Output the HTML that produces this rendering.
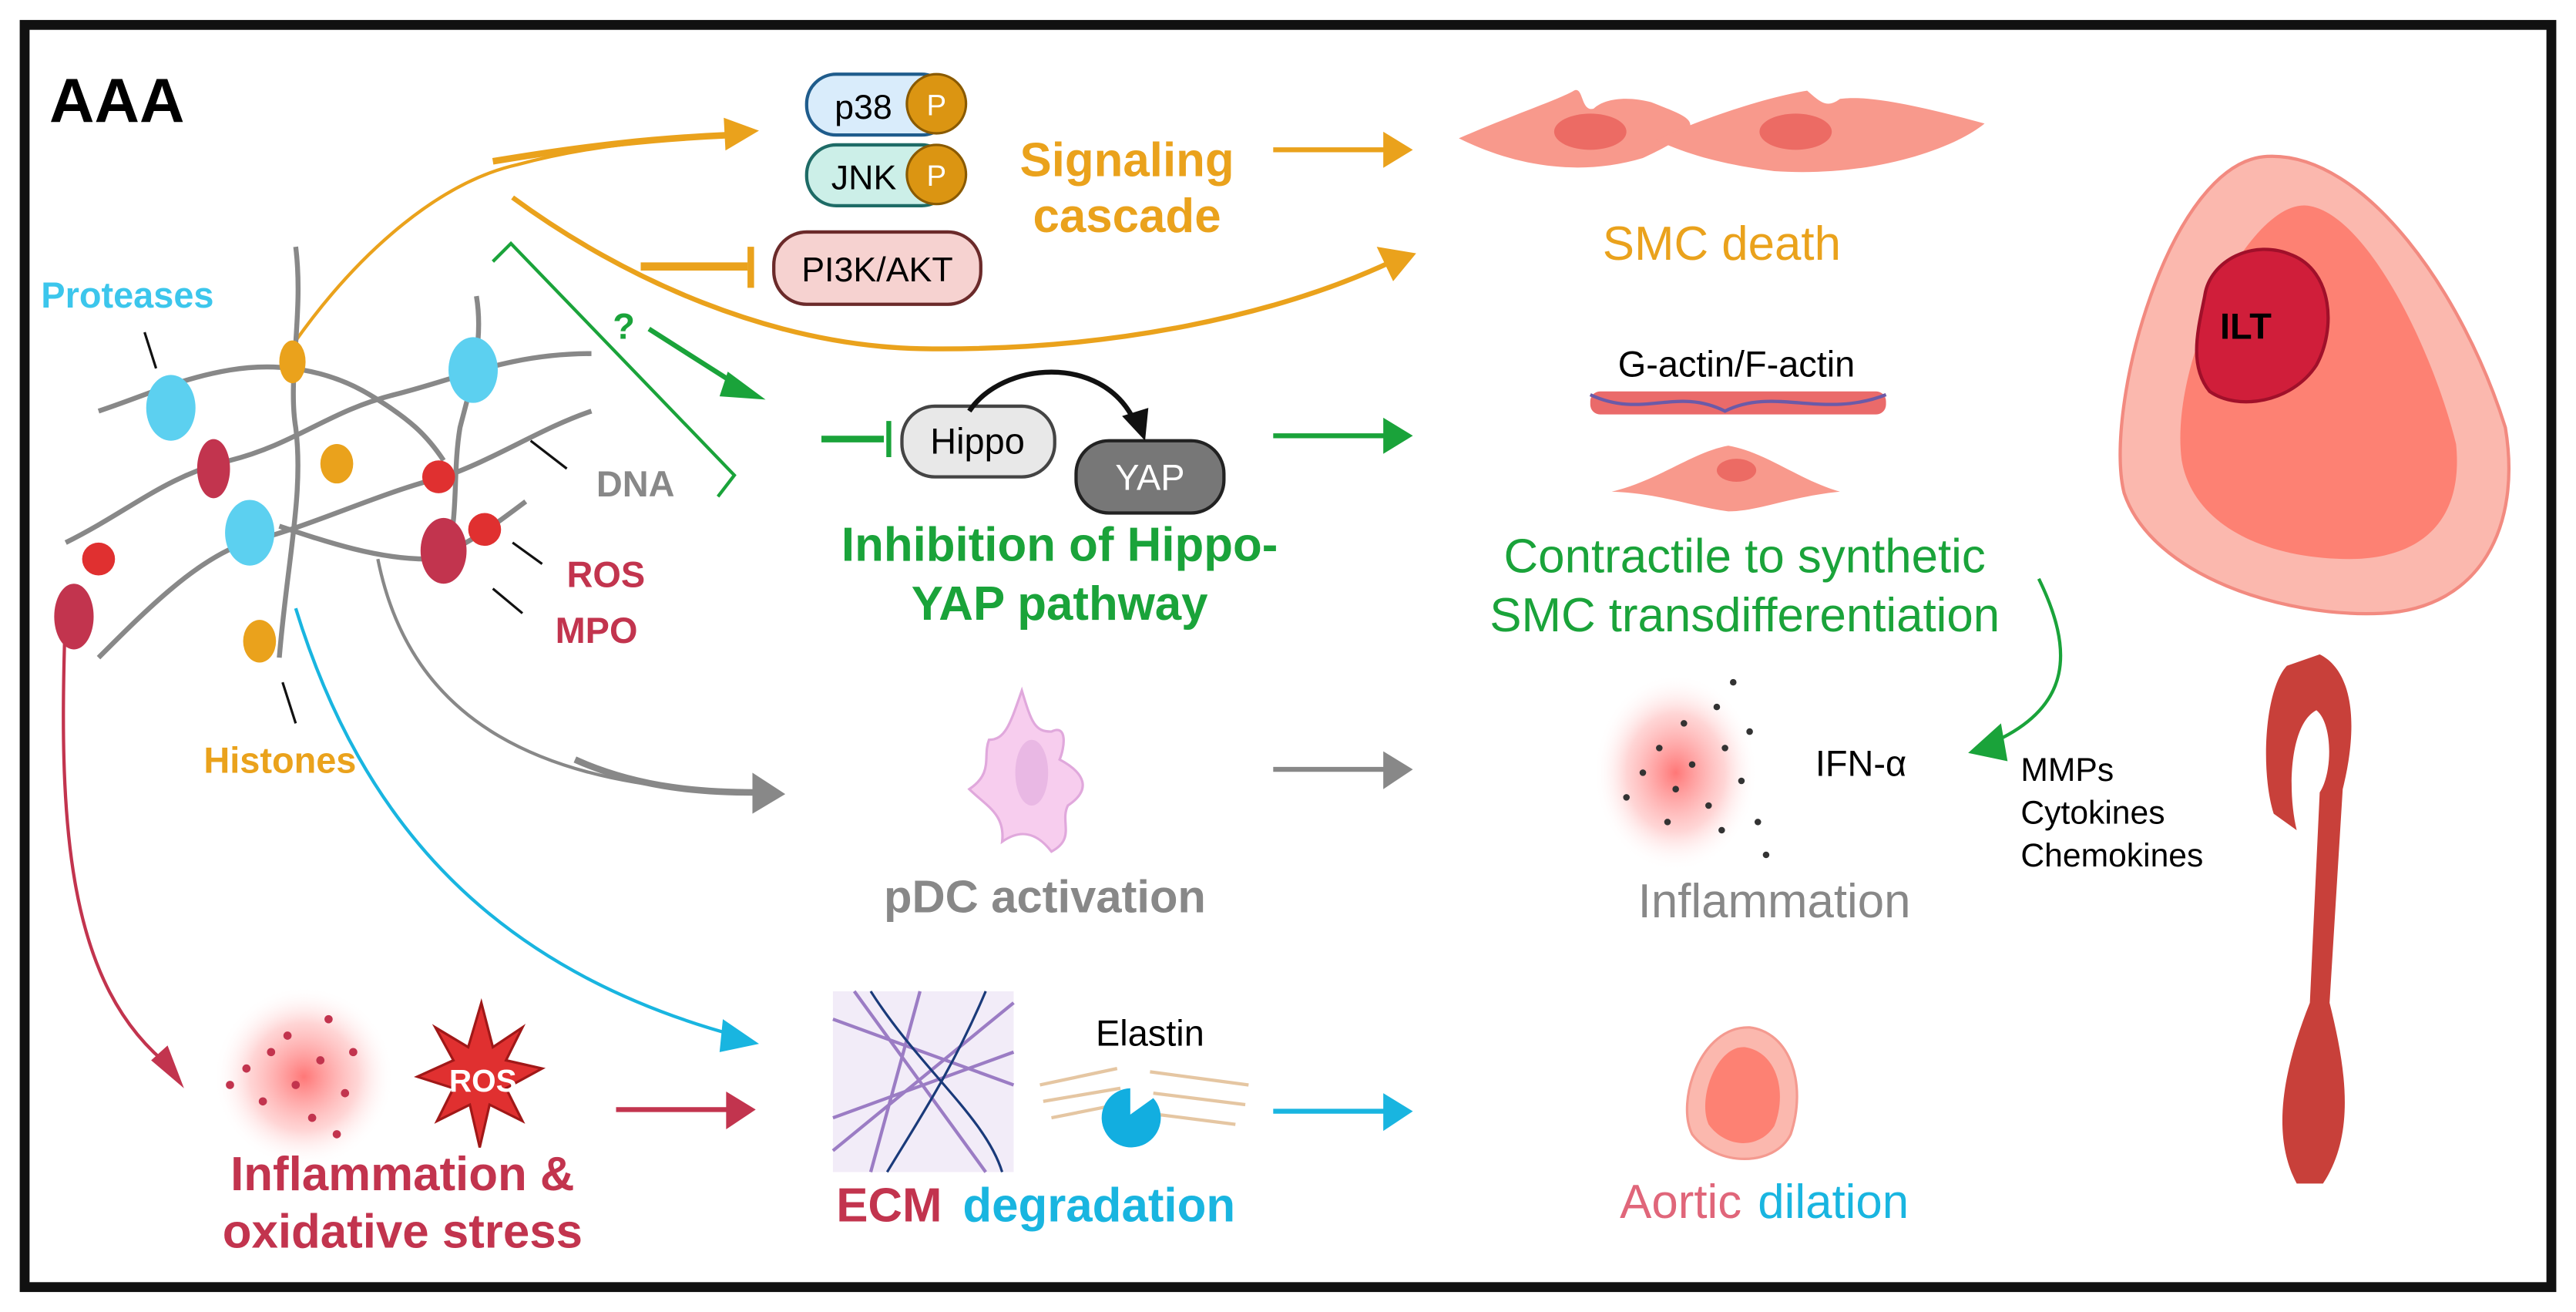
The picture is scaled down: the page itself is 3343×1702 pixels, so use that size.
<!DOCTYPE html>
<html><head><meta charset="utf-8"><style>
html,body{margin:0;padding:0;background:#fff;}
svg{display:block;}
text{font-family:"Liberation Sans",sans-serif;}
</style></head><body>
<svg width="3343" height="1702" viewBox="0 0 1568 798" xmlns="http://www.w3.org/2000/svg">
<defs>
<radialGradient id="glow"><stop offset="0" stop-color="#f55" stop-opacity="0.8"/><stop offset="0.6" stop-color="#f88" stop-opacity="0.35"/><stop offset="1" stop-color="#fff" stop-opacity="0"/></radialGradient>
</defs>
<rect width="1568" height="798" fill="#fff"/>
<rect x="15" y="15" width="1538" height="768" fill="none" stroke="#111" stroke-width="6"/>
<text x="30" y="74" font-size="38" font-weight="bold" fill="#000">AAA</text>

<!-- pills -->
<rect x="491" y="45" width="88" height="37" rx="18" fill="#d9ecfb" stroke="#1f5c8c" stroke-width="2"/>
<text x="508" y="72" font-size="21">p38</text>
<circle cx="570" cy="63" r="18" fill="#db9512" stroke="#8a5a00" stroke-width="1.5"/><text x="570" y="70" font-size="18" fill="#fff" text-anchor="middle">P</text>
<rect x="491" y="88" width="88" height="37" rx="18" fill="#ccefe8" stroke="#1e6b66" stroke-width="2"/>
<text x="506" y="115" font-size="21">JNK</text>
<circle cx="570" cy="106" r="18" fill="#db9512" stroke="#8a5a00" stroke-width="1.5"/><text x="570" y="113" font-size="18" fill="#fff" text-anchor="middle">P</text>
<rect x="471" y="141" width="126" height="44" rx="20" fill="#f6d2d0" stroke="#6b2a2a" stroke-width="2"/>
<text x="534" y="171" font-size="21" text-anchor="middle">PI3K/AKT</text>
<text x="686" y="107" font-size="29" font-weight="bold" fill="#eaa21c" text-anchor="middle">Signaling</text>
<text x="686" y="141" font-size="29" font-weight="bold" fill="#eaa21c" text-anchor="middle">cascade</text>

<!-- orange arrows -->
<path d="M178,210 C220,150 270,110 315,100 C360,88 400,85 450,82" fill="none" stroke="#eaa21c" stroke-width="2"/>
<path d="M300,98 C360,88 400,84 445,82" fill="none" stroke="#eaa21c" stroke-width="4"/>
<path d="M441,71 L462,80 L441,91z" fill="#eaa21c" transform="rotate(-3 450 80)"/>
<path d="M312,120 C380,170 470,210 560,212 C680,214 780,190 845,160" fill="none" stroke="#eaa21c" stroke-width="3"/>
<path d="M838,150 L862,154 L848,171z" fill="#eaa21c"/>
<path d="M390,162 L455,162" stroke="#eaa21c" stroke-width="5"/>
<path d="M457,150 L457,175" stroke="#eaa21c" stroke-width="4"/>
<path d="M775,91 L845,91" stroke="#eaa21c" stroke-width="3"/>
<path d="M842,80 L860,91 L842,102z" fill="#eaa21c"/>

<!-- SMC death cells -->
<path d="M888,84 C920,70 950,60 958,55 C964,52 962,68 970,66 C976,60 990,58 1005,62 C1030,72 1045,75 1000,96 C960,108 920,100 888,84z" fill="#f8998c"/>
<path d="M1008,85 C1040,70 1080,58 1100,55 C1108,62 1112,66 1120,60 C1135,58 1160,62 1208,75 C1190,90 1140,108 1080,104 C1050,100 1030,95 1008,85z" fill="#f8998c"/>
<ellipse cx="968" cy="80" rx="22" ry="11" fill="#ec6b64"/><ellipse cx="1093" cy="80" rx="22" ry="11" fill="#ec6b64"/>
<text x="1048" y="158" font-size="29" fill="#eaa21c" text-anchor="middle">SMC death</text>

<!-- green bracket & arrows -->
<polyline points="300,159 311,148 447,289 437,302" fill="none" stroke="#1aa33a" stroke-width="2"/>
<text x="373" y="206" font-size="22" font-weight="bold" fill="#1aa33a">?</text>
<path d="M395,200 L450,235" stroke="#1aa33a" stroke-width="3"/>
<path d="M443,226 L466,243 L438,241z" fill="#1aa33a"/>
<path d="M500,267 L538,267" stroke="#1aa33a" stroke-width="4"/>
<path d="M541,256 L541,278" stroke="#1aa33a" stroke-width="3"/>
<rect x="549" y="247" width="93" height="43" rx="20" fill="#e8e8e8" stroke="#444" stroke-width="2"/>
<text x="595" y="276" font-size="22" text-anchor="middle">Hippo</text>
<rect x="655" y="268" width="90" height="44" rx="20" fill="#777" stroke="#222" stroke-width="2"/>
<text x="700" y="298" font-size="22" fill="#fff" text-anchor="middle">YAP</text>
<path d="M590,250 C610,220 670,215 690,255" fill="none" stroke="#111" stroke-width="3"/>
<path d="M683,253 L697,268 L699,248z" fill="#111"/>
<text x="645" y="341" font-size="29" font-weight="bold" fill="#1aa33a" text-anchor="middle">Inhibition of Hippo-</text>
<text x="645" y="377" font-size="29" font-weight="bold" fill="#1aa33a" text-anchor="middle">YAP pathway</text>
<path d="M775,265 L845,265" stroke="#1aa33a" stroke-width="3"/>
<path d="M842,254 L860,265 L842,276z" fill="#1aa33a"/>

<text x="1057" y="229" font-size="22" text-anchor="middle">G-actin/F-actin</text>
<rect x="968" y="238" width="180" height="14" rx="6" fill="#ea6a6a"/>
<path d="M968,240 C1000,255 1020,235 1050,250 C1080,235 1110,255 1148,240" fill="none" stroke="#6b5aa8" stroke-width="2"/>
<path d="M981,299 C1010,292 1030,275 1052,271 C1075,275 1095,292 1120,299 C1090,302 1070,311 1052,311 C1030,308 1010,300 981,299z" fill="#f8998c"/>
<ellipse cx="1057" cy="286" rx="12" ry="7" fill="#ec6b64"/>
<text x="1062" y="348" font-size="29" fill="#1aa33a" text-anchor="middle">Contractile to synthetic</text>
<text x="1062" y="384" font-size="29" fill="#1aa33a" text-anchor="middle">SMC transdifferentiation</text>
<path d="M1241,352 C1262,395 1262,430 1212,452" fill="none" stroke="#1aa33a" stroke-width="2"/>
<path d="M1218,440 L1198,458 L1222,463z" fill="#1aa33a"/>

<!-- big vessel -->
<path d="M1380,95 C1440,92 1500,180 1525,260 C1535,320 1510,370 1450,373 C1390,376 1310,350 1293,300 C1280,250 1320,98 1380,95z" fill="#fbb8ae" stroke="#f28a80" stroke-width="2"/>
<path d="M1405,125 C1440,130 1480,210 1495,270 C1500,320 1470,340 1430,340 C1380,340 1335,320 1328,280 C1320,220 1370,120 1405,125z" fill="#fd8173"/>
<path d="M1342,180 C1345,158 1372,145 1395,155 C1420,165 1422,200 1410,222 C1395,245 1362,250 1345,238 C1332,222 1338,200 1342,180z" fill="#d01e3a" stroke="#a0102a" stroke-width="2"/>
<text x="1367" y="206" font-size="22" font-weight="bold" text-anchor="middle">ILT</text>

<!-- NET network -->
<g fill="none" stroke="#888" stroke-width="3">
<path d="M40,330 C80,310 100,290 140,280 C180,270 200,250 240,240 C280,230 310,215 360,215 M60,400 C90,370 120,340 150,330 C190,320 230,300 270,290 C300,280 330,260 360,250"/>
<path d="M60,250 C90,240 110,230 140,225 C170,220 200,225 225,240 C250,255 260,265 270,280 M180,150 C185,190 175,230 180,260 C185,300 175,340 170,400"/>
<path d="M290,180 C295,210 285,240 280,260 C275,290 280,320 270,340 M170,320 C200,330 230,340 260,340 C280,335 300,320 320,305"/>
</g>
<g fill="#5cd0f0"><ellipse cx="104" cy="248" rx="15" ry="20"/><ellipse cx="288" cy="225" rx="15" ry="20"/><ellipse cx="152" cy="324" rx="15" ry="20"/></g>
<g fill="#c2344e"><ellipse cx="130" cy="285" rx="10" ry="18"/><ellipse cx="45" cy="375" rx="12" ry="20"/><ellipse cx="270" cy="335" rx="14" ry="20"/></g>
<g fill="#eaa21c"><ellipse cx="178" cy="220" rx="8" ry="13"/><ellipse cx="205" cy="282" rx="10" ry="12"/><ellipse cx="158" cy="390" rx="10" ry="13"/></g>
<g fill="#e03030"><circle cx="267" cy="290" r="10"/><circle cx="295" cy="322" r="10"/><circle cx="60" cy="340" r="10"/></g>
<g stroke="#111" stroke-width="1.5"><path d="M88,202 L95,224"/><path d="M323,268 L345,285"/><path d="M312,330 L330,343"/><path d="M300,358 L318,373"/><path d="M172,415 L180,440"/></g>
<text x="25" y="187" font-size="22" font-weight="bold" fill="#3cc6ec">Proteases</text>
<text x="363" y="302" font-size="22" font-weight="bold" fill="#888">DNA</text>
<text x="345" y="357" font-size="22" font-weight="bold" fill="#c2344e">ROS</text>
<text x="338" y="391" font-size="22" font-weight="bold" fill="#c2344e">MPO</text>
<text x="124" y="470" font-size="22" font-weight="bold" fill="#eaa21c">Histones</text>

<!-- pDC -->
<path d="M230,340 C250,440 330,480 460,482" fill="none" stroke="#888" stroke-width="2"/>
<path d="M350,462 C390,480 430,482 460,482" fill="none" stroke="#888" stroke-width="4"/>
<path d="M458,470 L478,483 L458,495z" fill="#888"/>
<path d="M622,420 C628,440 630,445 640,445 C650,440 648,455 645,462 C660,470 665,480 650,490 C645,500 655,510 640,518 C630,505 620,505 610,512 C612,495 600,490 590,480 C605,470 598,460 602,450 C612,450 615,440 622,420z" fill="#f7cdee" stroke="#e0a8dc" stroke-width="1.5"/>
<ellipse cx="628" cy="470" rx="10" ry="20" fill="#e9b8e4"/>
<text x="636" y="555" font-size="28" font-weight="bold" fill="#888" text-anchor="middle">pDC activation</text>
<path d="M775,468 L845,468" stroke="#888" stroke-width="3"/>
<path d="M842,457 L860,468 L842,480z" fill="#888"/>

<!-- inflammation -->
<ellipse cx="1020" cy="470" rx="50" ry="60" fill="url(#glow)"/>
<g fill="#333"><circle cx="1000" cy="470" r="2"/><circle cx="1010" cy="455" r="2"/><circle cx="1020" cy="480" r="2"/><circle cx="1030" cy="465" r="2"/><circle cx="1040" cy="490" r="2"/><circle cx="1050" cy="455" r="2"/><circle cx="1060" cy="475" r="2"/><circle cx="1025" cy="440" r="2"/><circle cx="1045" cy="430" r="2"/><circle cx="1065" cy="445" r="2"/><circle cx="1070" cy="500" r="2"/><circle cx="990" cy="485" r="2"/><circle cx="1015" cy="500" r="2"/><circle cx="1055" cy="415" r="2"/><circle cx="1075" cy="520" r="2"/><circle cx="1048" cy="505" r="2"/></g>
<text x="1105" y="472" font-size="22">IFN-α</text>
<text x="1080" y="558" font-size="29" fill="#888" text-anchor="middle">Inflammation</text>
<text x="1230" y="475" font-size="20">MMPs</text>
<text x="1230" y="501" font-size="20">Cytokines</text>
<text x="1230" y="527" font-size="20">Chemokines</text>

<!-- aorta -->
<path d="M1392,405 C1378,420 1376,470 1384,495 L1398,505 C1392,480 1394,440 1410,432 C1420,440 1420,470 1412,482 L1406,610 C1390,650 1382,690 1398,720 L1414,720 C1434,690 1428,650 1418,610 L1426,480 C1436,440 1432,408 1412,398z" fill="#c8403a"/>

<!-- bottom row -->
<path d="M40,370 C35,500 40,600 105,650" fill="none" stroke="#c2344e" stroke-width="2"/>
<path d="M92,645 L112,662 L102,636z" fill="#c2344e"/>
<path d="M180,370 C220,500 300,590 448,630" fill="none" stroke="#19b5e0" stroke-width="2"/>
<path d="M440,620 L462,635 L438,640z" fill="#19b5e0"/>
<ellipse cx="185" cy="655" rx="55" ry="55" fill="url(#glow)"/>
<g fill="#c2344e"><circle cx="150" cy="650" r="2.5"/><circle cx="165" cy="640" r="2.5"/><circle cx="180" cy="660" r="2.5"/><circle cx="195" cy="645" r="2.5"/><circle cx="210" cy="665" r="2.5"/><circle cx="175" cy="630" r="2.5"/><circle cx="200" cy="620" r="2.5"/><circle cx="160" cy="670" r="2.5"/><circle cx="190" cy="680" r="2.5"/><circle cx="215" cy="640" r="2.5"/><circle cx="205" cy="690" r="2.5"/><circle cx="140" cy="660" r="2.5"/></g>
<polygon points="293,610 300,637 318,625 308,645 330,650 308,662 318,682 298,672 292,698 286,672 266,682 276,662 254,655 276,645 265,625 285,637" fill="#e03030" stroke="#a01818" stroke-width="1.5"/>
<text x="294" y="664" font-size="19" font-weight="bold" fill="#fff" text-anchor="middle">ROS</text>
<text x="245" y="724" font-size="29" font-weight="bold" fill="#c2344e" text-anchor="middle">Inflammation &amp;</text>
<text x="245" y="759" font-size="29" font-weight="bold" fill="#c2344e" text-anchor="middle">oxidative stress</text>
<path d="M375,675 L445,675" stroke="#c2344e" stroke-width="3"/>
<path d="M442,664 L460,675 L442,687z" fill="#c2344e"/>

<rect x="507" y="603" width="110" height="110" fill="#f2ecf8"/>
<g fill="none" stroke="#9b7cc4" stroke-width="2"><path d="M507,620 L617,660 M507,680 L617,640 M520,603 L600,713 M560,603 L530,713 M507,700 L617,610"/></g>
<g fill="none" stroke="#1a3a7a" stroke-width="1.5"><path d="M530,603 C560,650 600,680 610,713 M600,603 C580,650 560,680 540,713"/></g>
<text x="700" y="636" font-size="22" text-anchor="middle">Elastin</text>
<g stroke="#e5c6a2" stroke-width="2"><path d="M633,660 L680,650 M635,670 L682,662 M640,680 L680,672 M700,652 L760,660 M702,665 L758,672 M705,678 L752,684"/></g>
<path d="M688,662 A18,18 0 1,0 702,668 L688,678z" fill="#12aee0"/>
<text x="509" y="743" font-size="29" font-weight="bold" fill="#c2344e">ECM</text>
<text x="586" y="743" font-size="29" font-weight="bold" fill="#19b5e0">degradation</text>
<path d="M775,676 L845,676" stroke="#19b5e0" stroke-width="3"/>
<path d="M842,665 L860,676 L842,688z" fill="#19b5e0"/>
<path d="M1065,625 C1090,628 1100,660 1090,690 C1080,710 1045,710 1030,690 C1020,670 1035,624 1065,625z" fill="#fbb8ae" stroke="#f49a90" stroke-width="1.5"/>
<path d="M1062,637 C1082,640 1088,665 1080,685 C1070,700 1050,698 1040,684 C1033,668 1045,636 1062,637z" fill="#fd8173"/>
<text x="986" y="741" font-size="29" fill="#e0667a">Aortic</text>
<text x="1070" y="741" font-size="29" fill="#19b5e0">dilation</text>
</svg>
</body></html>
